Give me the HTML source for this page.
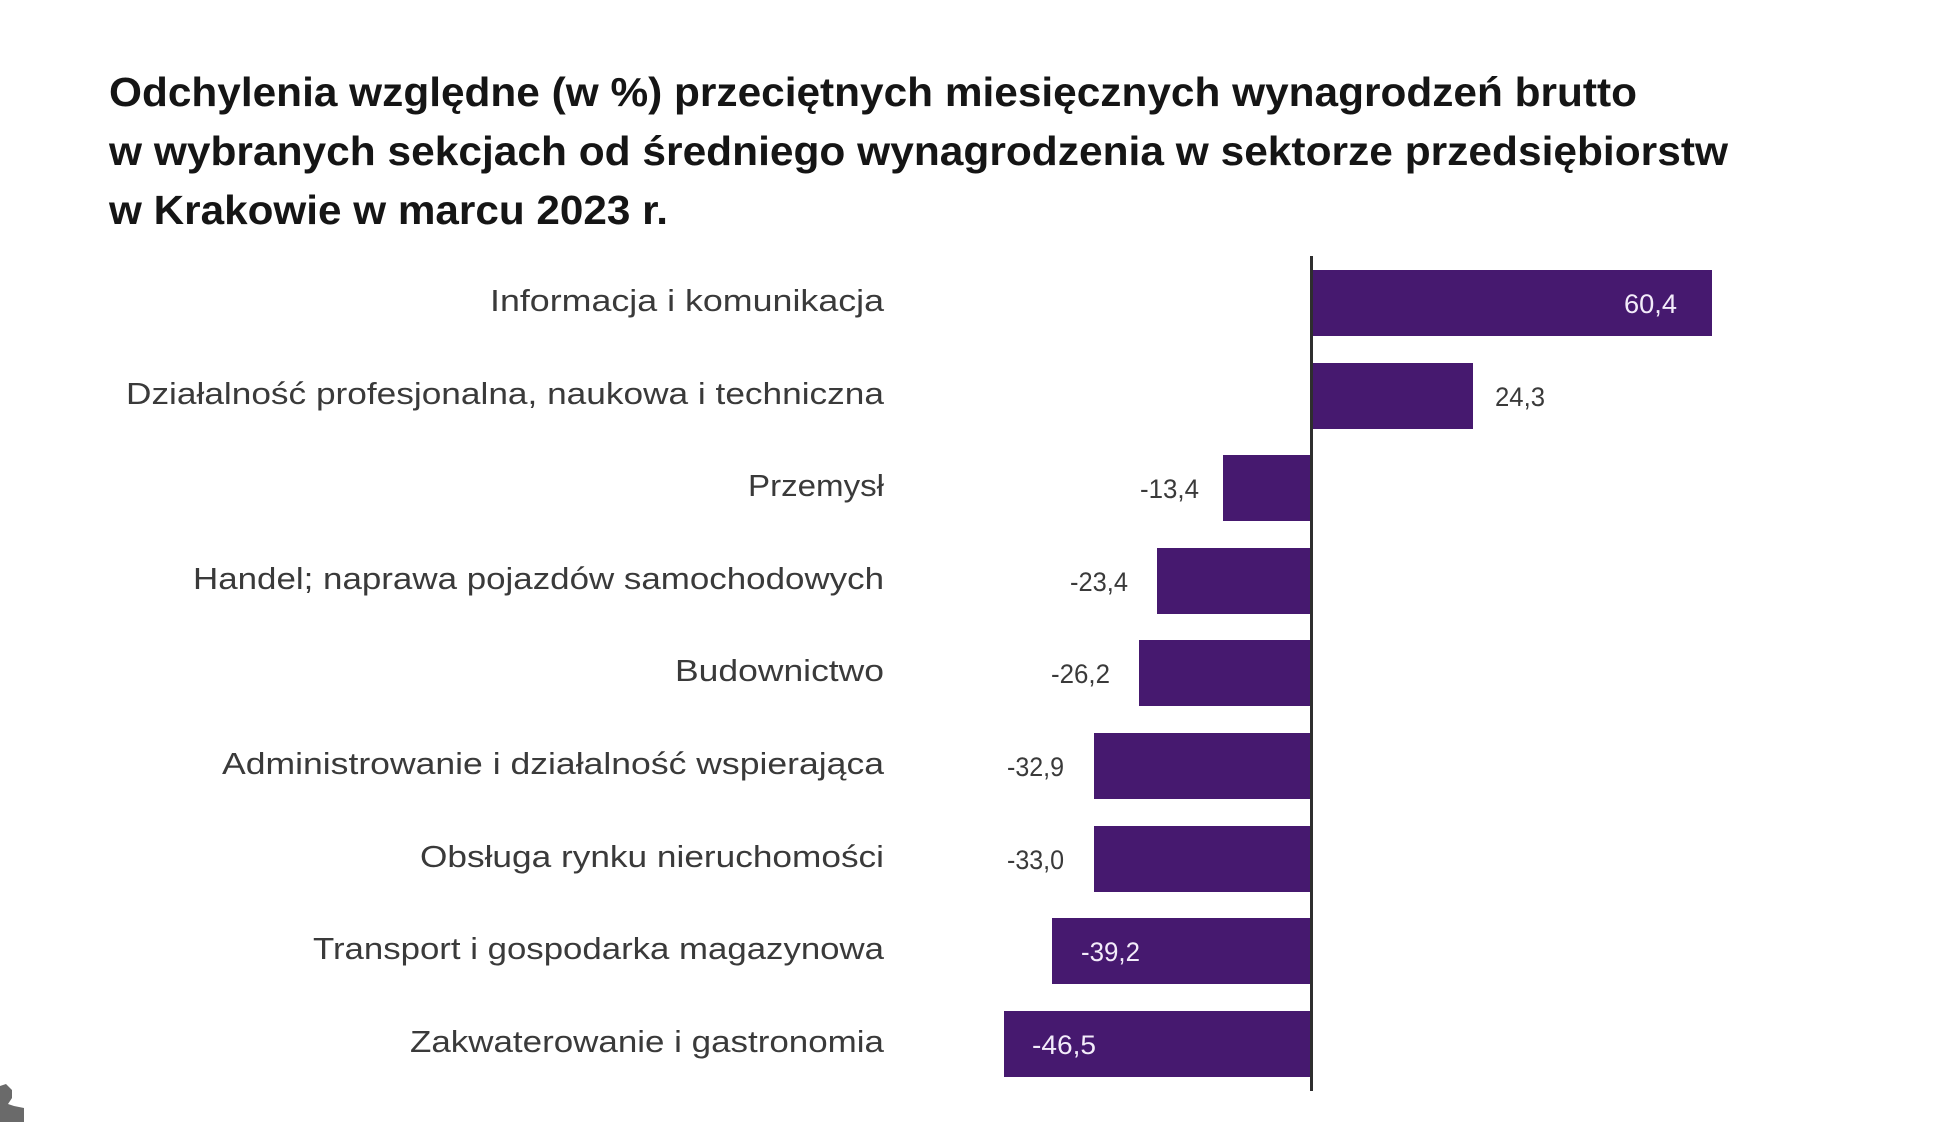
<!DOCTYPE html>
<html>
<head>
<meta charset="utf-8">
<style>
  html, body { margin: 0; padding: 0; background: #ffffff; }
  body { width: 1948px; height: 1122px; overflow: hidden; }
  svg { display: block; }
  .title { font-family: "Liberation Sans", sans-serif; font-weight: bold; font-size: 41px; fill: #151515; }
  .lab { font-family: "Liberation Sans", sans-serif; font-size: 31px; fill: #3a3a3a; }
  .val { font-family: "Liberation Sans", sans-serif; font-size: 27px; fill: #3a3a3a; }
  .valw { font-family: "Liberation Sans", sans-serif; font-size: 27px; fill: #f3ecfa; }
</style>
</head>
<body>
<svg width="1948" height="1122" viewBox="0 0 1948 1122" xmlns="http://www.w3.org/2000/svg">
  <rect x="0" y="0" width="1948" height="1122" fill="#ffffff"/>

  <!-- Title -->
  <text class="title" x="109" y="106" textLength="1528" lengthAdjust="spacingAndGlyphs">Odchylenia względne (w %) przeciętnych miesięcznych wynagrodzeń brutto</text>
  <text class="title" x="109" y="165" textLength="1619" lengthAdjust="spacingAndGlyphs">w wybranych sekcjach od średniego wynagrodzenia w sektorze przedsiębiorstw</text>
  <text class="title" x="109" y="224" textLength="559" lengthAdjust="spacingAndGlyphs">w Krakowie w marcu 2023 r.</text>

  <!-- Bars -->
  <g fill="#46196f">
    <rect x="1312" y="270" width="400" height="66"/>
    <rect x="1312" y="363" width="161" height="66"/>
    <rect x="1223" y="455" width="89" height="66"/>
    <rect x="1157" y="548" width="155" height="66"/>
    <rect x="1139" y="640" width="173" height="66"/>
    <rect x="1094" y="733" width="218" height="66"/>
    <rect x="1094" y="826" width="218" height="66"/>
    <rect x="1052" y="918" width="260" height="66"/>
    <rect x="1004" y="1011" width="308" height="66"/>
  </g>

  <!-- Axis line -->
  <rect x="1310" y="256" width="3" height="835" fill="#2e2e2e"/>

  <!-- Category labels -->
  <text class="lab" x="490" y="311" textLength="394" lengthAdjust="spacingAndGlyphs">Informacja i komunikacja</text>
  <text class="lab" x="126" y="404" textLength="758" lengthAdjust="spacingAndGlyphs">Działalność profesjonalna, naukowa i techniczna</text>
  <text class="lab" x="748" y="496" textLength="136" lengthAdjust="spacingAndGlyphs">Przemysł</text>
  <text class="lab" x="193" y="589" textLength="691" lengthAdjust="spacingAndGlyphs">Handel; naprawa pojazdów samochodowych</text>
  <text class="lab" x="675" y="681" textLength="209" lengthAdjust="spacingAndGlyphs">Budownictwo</text>
  <text class="lab" x="222" y="774" textLength="662" lengthAdjust="spacingAndGlyphs">Administrowanie i działalność wspierająca</text>
  <text class="lab" x="420" y="867" textLength="464" lengthAdjust="spacingAndGlyphs">Obsługa rynku nieruchomości</text>
  <text class="lab" x="313" y="959" textLength="571" lengthAdjust="spacingAndGlyphs">Transport i gospodarka magazynowa</text>
  <text class="lab" x="410" y="1052" textLength="474" lengthAdjust="spacingAndGlyphs">Zakwaterowanie i gastronomia</text>

  <!-- Value labels -->
  <text class="valw" x="1624" y="313" textLength="53" lengthAdjust="spacingAndGlyphs">60,4</text>
  <text class="val" x="1495" y="406" textLength="50" lengthAdjust="spacingAndGlyphs">24,3</text>
  <text class="val" x="1140" y="498" textLength="59" lengthAdjust="spacingAndGlyphs">-13,4</text>
  <text class="val" x="1070" y="591" textLength="58" lengthAdjust="spacingAndGlyphs">-23,4</text>
  <text class="val" x="1051" y="683" textLength="59" lengthAdjust="spacingAndGlyphs">-26,2</text>
  <text class="val" x="1007" y="776" textLength="57" lengthAdjust="spacingAndGlyphs">-32,9</text>
  <text class="val" x="1007" y="869" textLength="57" lengthAdjust="spacingAndGlyphs">-33,0</text>
  <text class="valw" x="1081" y="961" textLength="59" lengthAdjust="spacingAndGlyphs">-39,2</text>
  <text class="valw" x="1032" y="1054" textLength="64" lengthAdjust="spacingAndGlyphs">-46,5</text>

  <!-- Partial gray icon bottom-left -->
  <path d="M0 1086 L6 1084 L12 1090 L12 1098 L8 1104 L14 1106 L24 1108 L24 1122 L0 1122 Z" fill="#6a6a6a"/>
</svg>
</body>
</html>
